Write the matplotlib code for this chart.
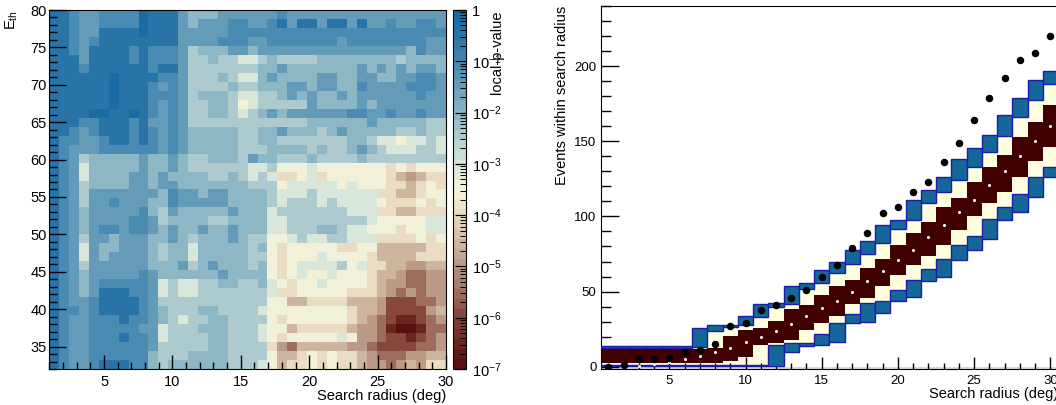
import numpy as np
import matplotlib
matplotlib.use("Agg")
import matplotlib.pyplot as plt
from matplotlib.colors import LinearSegmentedColormap, LogNorm
from matplotlib.ticker import MultipleLocator, LogLocator, NullFormatter

plt.rcParams['font.family'] = ['Liberation Sans', 'DejaVu Sans']
plt.rcParams['mathtext.fontset'] = 'custom'
plt.rcParams['mathtext.rm'] = 'Liberation Sans'
plt.rcParams['mathtext.it'] = 'Liberation Sans:italic'
plt.rcParams['mathtext.bf'] = 'Liberation Sans:bold'

# ---- left panel: local p-value map ----
# one char per cell, hex digit k means p = 10**(-k/2); first row is E_th = 80
pval_rows = [
    "11233222201113444333" "33323333333333333333",
    "11233222201113433322" "33213113113133233223",
    "11233111101113333322" "22222222222222222222",
    "11232111111113333222" "33222222232222222233",
    "11231111212223544433" "43333333333333334233",
    "11131111212223554556" "65455554444444454444",
    "11121111112113555555" "54434444444343434334",
    "11111101111223555456" "64344443344334433223",
    "11111101112323555545" "54443343344233332223",
    "11111101112223544456" "65543434434333333233",
    "11111101112323554457" "65555534444343333333",
    "11110011012323554456" "54343333332233233233",
    "11122111213323555555" "55555544444434444455",
    "11232111212323444445" "54434445434444455455",
    "12233211212323444445" "54455555554456676656",
    "12333222222323444445" "55444454554345666556",
    "12354444434434554445" "34455545555455555555",
    "12364444434434555555" "66577767777777878777",
    "12364444334344445545" "6568876877777789A988",
    "12354444334334444444" "55576666676777889878",
    "12353333333423343344" "44566656666668899877",
    "12353323334423333344" "44565556566667888787",
    "12343333324534444434" "44655555556668899888",
    "12343333223544445544" "44665555555567777766",
    "12343223223434434434" "44665554456677787766",
    "12353343334434544434" "55776566556668888787",
    "12363443334544644444" "54787777788779999988",
    "12363433334544644444" "55787776777789999888",
    "12353333334443543444" "5478766665768899AA99",
    "12343333323444444344" "447876776777899ABBAA",
    "12343222223656655445" "54678776777789AABBAA",
    "12343111223656655555" "55688777778889ABABAA",
    "12332111123555555555" "5577998888999ACCCBBA",
    "12232111123455544555" "5677777777899ACCCCA9",
    "12332221223456554455" "557877777789ABCDDCBA",
    "12332222233655544455" "56779888889AABDEEDBB",
    "12332221223655554455" "56787777767AABCCDCBA",
    "12332222223555554455" "558AB99999AABCCCCBBA",
    "12332222224555444455" "557998787889ABBBAA99",
    "12332111224544444455" "567988787889AABA9A88",
]
radius_edges = np.linspace(1, 30, 41)
eth_edges = np.linspace(32, 80, 41)

palette = ['#5b0f0f', '#6e2a24', '#86473d', '#a37565', '#bb9a87', '#d3bca5',
           '#e9dcc2', '#f7f3d8', '#d9e6da', '#b5d0d0', '#8eb7c5', '#6a9fbb',
           '#4a8bb3', '#2c77ab', '#1a6aa3']

# ---- right panel: events within search radius ----
bins = np.arange(1, 31)
observed = [0, 1, 5, 5, 6, 10, 11, 15, 27, 29, 38, 41, 46, 51, 60, 68, 79, 89,
            102, 106, 116, 123, 136, 149, 164, 179, 192, 204, 209, 220]
median = [0, 0.3, 0.6, 1.5, 3.1, 5.1, 7.1, 9.6, 12.6, 16.2, 19.9, 24.1, 28.6, 34,
          39, 44, 50, 57, 64, 71, 78, 86, 94, 103, 111, 121, 130, 140, 150, 160]
lo1 = [2.2, 2.2, 2.2, 2.2, 2.2, 2.2, 2.2, 2.7, 3.8, 6.3, 14.4, 15.9, 18.1, 24.5,
       28.8, 34, 42, 46, 54, 61, 68, 74, 81, 91, 100, 109, 116, 126, 137, 146]
hi1 = [11.8, 11.8, 11.8, 11.8, 11.8, 11.8, 11.8, 12.2, 20.5, 24.5, 26, 30.5, 38.5,
       41, 48, 54, 58, 66, 72, 81, 89, 96, 106, 112, 123, 133, 141, 153, 163, 174]
lo2 = [1.2, 1.2, 1.2, 1.2, 1.2, 1.2, 1.2, 1.2, 1.2, 1.2, 1.2, 14.4, 15.5, 15.5,
       21.5, 29.2, 35, 42.5, 43.6, 51, 57.5, 65, 72, 81.3, 86.8, 98.6, 106, 115,
       126, 133]
hi2 = [12.8, 12.8, 12.8, 12.8, 12.8, 12.8, 13.3, 23.9, 26.6, 27.7, 32.8, 39.5, 41.6,
       51.4, 55.4, 62.5, 68.3, 75.3, 82.4, 91.9, 97.4, 109, 116, 124.5, 133, 143,
       153.3, 166, 177.7, 187.9]
lo3 = [0.4, 0.4, 0.4, 0.4, 0.4, 0.4, 0.4, 0.4, 0.4, 0.4, 0.4, 0.4, 10, 13.5, 14.4,
       16.6, 28.8, 29.5, 35.9, 43.6, 46.6, 56.9, 60, 70.9, 78, 85.3, 97.5, 103,
       113, 126]
hi3 = [13.8, 13.8, 13.8, 13.8, 13.8, 13.8, 25.9, 27.7, 28.1, 33.7, 41.6, 42.1, 53.6,
       56, 64.5, 69.8, 78, 83.8, 94.1, 97.8, 110.8, 117.4, 126, 138.4, 145.5, 153.9,
       167.2, 179, 190.5, 196.7]

W, H = 1056, 405
fig = plt.figure(figsize=(W / 100, H / 100), dpi=100)

# ---- left panel ----
pmap = np.array([[10 ** (-int(ch, 16) / 2) for ch in row] for row in pval_rows])[::-1]
cmap = LinearSegmentedColormap.from_list('pv', palette).resampled(36)

ax1 = fig.add_axes([49.3 / W, 36 / H, 396.7 / W, 359 / H])
mesh = ax1.pcolormesh(radius_edges, eth_edges, pmap, cmap=cmap,
                      norm=LogNorm(vmin=1e-7, vmax=1))
ax1.set_xlim(1, 30)
ax1.set_ylim(32, 80)
ax1.xaxis.set_major_locator(MultipleLocator(5))
ax1.xaxis.set_minor_locator(MultipleLocator(1))
ax1.yaxis.set_major_locator(MultipleLocator(5))
ax1.yaxis.set_minor_locator(MultipleLocator(1))
ax1.tick_params(axis='x', which='major', direction='in', length=10, width=1, pad=4, labelsize=10.5)
ax1.tick_params(axis='x', which='minor', direction='in', length=5, width=1)
ax1.tick_params(axis='y', which='major', direction='in', length=12, width=1, pad=2, labelsize=10.5)
ax1.tick_params(axis='y', which='minor', direction='in', length=6, width=1)
ax1.set_xlabel('Search radius (deg)', loc='right', fontsize=10.5, labelpad=0)
fig.text(12 / W, 1 - 10 / H, r'E$_{\rm th}$', rotation=90, ha='center', va='top', fontsize=10.5)

cax = fig.add_axes([453.3 / W, 36 / H, 12.7 / W, 359 / H])
cbar = fig.colorbar(mesh, cax=cax)
cbar.outline.set_linewidth(0.8)
decades = [1e-7, 1e-6, 1e-5, 1e-4, 1e-3, 1e-2, 1e-1, 1]
cbar.set_ticks(decades)
cbar.set_ticklabels([r'$10^{-%d}$' % k for k in range(7, 0, -1)] + ['1'])
cax.yaxis.set_minor_locator(LogLocator(base=10, subs=np.arange(2, 10)))
cax.yaxis.set_minor_formatter(NullFormatter())
cax.tick_params(which='major', direction='in', length=8, width=0.9, pad=4, labelsize=10.5)
cax.tick_params(which='minor', direction='in', length=4, width=0.7)
fig.text(497 / W, 1 - 10 / H, 'local-p-value', rotation=90, ha='center', va='top', fontsize=10.5)

# ---- right panel ----
ax2 = fig.add_axes([600.7 / W, 36 / H, (1058 - 600.7) / W, 363 / H])
ax2.axhspan(-1.5, 0, color='#d9d9d9', lw=0, zorder=0)

lo1, hi1, lo2, hi2, lo3, hi3 = map(np.array, (lo1, hi1, lo2, hi2, lo3, hi3))
blue, navy, cream, maroon = '#15679a', '#1c1ca8', '#ffffe0', '#400000'
ax2.bar(bins, hi2 - lo2, bottom=lo2, width=1.0, color=cream, lw=0, zorder=1)
ax2.bar(bins, hi1 - lo1, bottom=lo1, width=1.0, color=maroon, lw=0, zorder=2)
ax2.bar(bins, hi3 - hi2, bottom=hi2, width=1.0, color=blue, edgecolor=navy, lw=1.0, zorder=3)
ax2.bar(bins, lo2 - lo3, bottom=lo3, width=1.0, color=blue, edgecolor=navy, lw=1.0, zorder=3)
ax2.plot(bins, median, 'o', color='white', ms=2.2, mew=0, zorder=4)
ax2.plot(bins, observed, 'o', color='black', ms=5.4, mew=0, zorder=5)

ax2.set_xlim(0.5, 30.5)
ax2.set_ylim(-1.5, 240)
ax2.xaxis.set_major_locator(MultipleLocator(5))
ax2.xaxis.set_minor_locator(MultipleLocator(1))
ax2.yaxis.set_major_locator(MultipleLocator(50))
ax2.yaxis.set_minor_locator(MultipleLocator(10))
ax2.tick_params(axis='x', which='major', direction='in', length=9, width=1, pad=4, labelsize=9.5)
ax2.tick_params(axis='x', which='minor', direction='in', length=4.5, width=1)
ax2.tick_params(axis='y', which='major', direction='in', length=13, width=1, pad=3, labelsize=9.5)
ax2.tick_params(axis='y', which='minor', direction='in', length=7, width=1)
ax2.set_xlabel('Search radius (deg)', loc='right', fontsize=10.5, labelpad=0)
ax2.set_ylabel('Events within search radius', loc='top', fontsize=10.5)

fig.savefig('out.png', dpi=100)
